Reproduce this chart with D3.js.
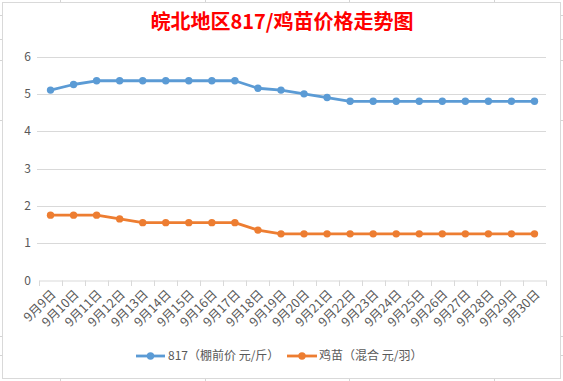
<!DOCTYPE html>
<html><head><meta charset="utf-8">
<script src="https://cdn.jsdelivr.net/npm/d3@7/dist/d3.min.js"></script>
<style>body{margin:0;background:#fff;}svg{display:block;}</style>
</head><body>
<script>
const categories = ["9月9日","9月10日","9月11日","9月12日","9月13日","9月14日","9月15日","9月16日","9月17日","9月18日","9月19日","9月20日","9月21日","9月22日","9月23日","9月24日","9月25日","9月26日","9月27日","9月28日","9月29日","9月30日"];
const series817 = [5.1,5.25,5.35,5.35,5.35,5.35,5.35,5.35,5.35,5.15,5.1,5.0,4.9,4.8,4.8,4.8,4.8,4.8,4.8,4.8,4.8,4.8];
const seriesChick = [1.75,1.75,1.75,1.65,1.55,1.55,1.55,1.55,1.55,1.35,1.25,1.25,1.25,1.25,1.25,1.25,1.25,1.25,1.25,1.25,1.25,1.25];
const yTicks = [0,1,2,3,4,5,6];
const seriesNames = ["817（棚前价 元/斤）","鸡苗（混合 元/羽）"];
const colors = ["#5B9BD5","#ED7D31"];
const title = "皖北地区817/鸡苗价格走势图";

const W=563,H=381;
const svg=d3.select("body").append("svg").attr("width",W).attr("height",H);
const font="'Noto Sans CJK SC','Microsoft YaHei',sans-serif";

// excel cell grid fragments outside chart
const cg=svg.append("g").attr("stroke","#d4d4d4").attr("stroke-width",1);
[15,39,60,120,336,355].forEach(y=>{cg.append("line").attr("x1",0).attr("x2",2).attr("y1",y+.5).attr("y2",y+.5);cg.append("line").attr("x1",561).attr("x2",563).attr("y1",y+.5).attr("y2",y+.5);});
[60,205,349,494].forEach(x=>{cg.append("line").attr("x1",x+.5).attr("x2",x+.5).attr("y1",0).attr("y2",2);cg.append("line").attr("x1",x+.5).attr("x2",x+.5).attr("y1",379).attr("y2",381);});
svg.append("rect").attr("x",2.5).attr("y",2.5).attr("width",558).attr("height",376).attr("fill","#fff").attr("stroke","#d9d9d9");

const x=d3.scaleBand().domain(categories).range([39,546]);
const y=d3.scaleLinear().domain([0,6]).range([280.5,56.5]);

svg.append("text").attr("x",282).attr("y",29).attr("text-anchor","middle").attr("fill","#FF0000").attr("font-family",font).attr("font-weight","bold").attr("font-size",20).text(title);

// gridlines
svg.append("g").selectAll("line").data(yTicks.filter(d=>d>0)).join("line")
 .attr("x1",37).attr("x2",546).attr("y1",d=>Math.round(y(d))+.5).attr("y2",d=>Math.round(y(d))+.5).attr("stroke","#d9d9d9");
svg.append("g").selectAll("text").data(yTicks).join("text")
 .attr("x",31).attr("y",d=>y(d)+4).attr("text-anchor","end").attr("fill","#595959").attr("font-family",font).attr("font-size",12).text(d=>d);

// x axis
const xa=svg.append("g").attr("transform","translate(0,280.5)").call(d3.axisBottom(x).tickSize(0).tickFormat(""));
xa.select(".domain").attr("stroke","#d9d9d9");
const bounds=categories.map(c=>x(c)).concat([x.range()[1]]);
svg.append("g").selectAll("line").data(bounds).join("line").attr("x1",d=>Math.round(d)+.5).attr("x2",d=>Math.round(d)+.5).attr("y1",280.5).attr("y2",286).attr("stroke","#d9d9d9");
svg.append("g").selectAll("text").data(categories).join("text")
 .attr("transform",d=>`translate(${x(d)+x.bandwidth()/2+3},${292}) rotate(-45)`)
 .attr("text-anchor","end").attr("dy","0.35em").attr("fill","#595959").attr("font-family",font).attr("font-size",12.5).text(d=>d);

// lines
[series817,seriesChick].forEach((s,i)=>{
 const line=d3.line().x((d,j)=>x(categories[j])+x.bandwidth()/2).y(d=>y(d));
 svg.append("path").datum(s).attr("d",line).attr("fill","none").attr("stroke",colors[i]).attr("stroke-width",2.8).attr("stroke-linejoin","round");
 svg.append("g").selectAll("circle").data(s).join("circle").attr("cx",(d,j)=>x(categories[j])+x.bandwidth()/2).attr("cy",d=>y(d)).attr("r",3.7).attr("fill",colors[i]);
});

// legend
const lg=[{x1:136,x2:165,tx:168},{x1:287,x2:317,tx:319}];
lg.forEach((l,i)=>{
 svg.append("line").attr("x1",l.x1).attr("x2",l.x2).attr("y1",356).attr("y2",356).attr("stroke",colors[i]).attr("stroke-width",2.8);
 svg.append("circle").attr("cx",(l.x1+l.x2)/2).attr("cy",356).attr("r",3.7).attr("fill",colors[i]);
 svg.append("text").attr("x",l.tx).attr("y",360).attr("fill","#595959").attr("font-family",font).attr("font-size",12).text(seriesNames[i]);
});
</script>
</body></html>
